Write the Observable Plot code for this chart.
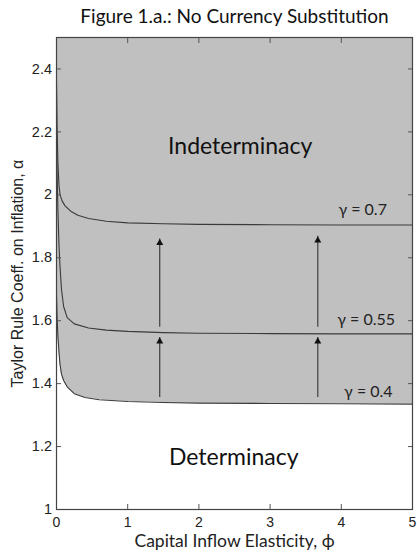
<!DOCTYPE html>
<html>
<head>
<meta charset="utf-8">
<script src="https://cdn.jsdelivr.net/npm/d3@7"></script>
<script src="https://cdn.jsdelivr.net/npm/@observablehq/plot@0.6"></script>
<style>
  html, body { margin: 0; padding: 0; background: #fff; }
</style>
</head>
<body>
<div id="chart"></div>
<script>
// ---- data ----
const titleText = "Figure 1.a.: No Currency Substitution";
const xLabel = "Capital Inflow Elasticity, \u03d5";
const yLabel = "Taylor Rule Coeff. on Inflation, \u03b1";
const xTicks = [0, 1, 2, 3, 4, 5];
const yTicks = [1, 1.2, 1.4, 1.6, 1.8, 2, 2.2, 2.4];
const xDomain = [0, 5];
const yDomain = [1, 2.5];

// gamma = 0.7
const phi07   = [0, 0.01, 0.02, 0.035, 0.05, 0.08, 0.12, 0.2, 0.3, 0.45, 0.7, 1.0, 1.5, 2, 3, 4, 5];
const alpha07 = [2.36, 2.2, 2.1, 2.03, 2.0, 1.98, 1.965, 1.948, 1.935, 1.925, 1.916, 1.911, 1.908, 1.906, 1.905, 1.904, 1.904];
// gamma = 0.55
const phi055   = [0, 0.01, 0.02, 0.035, 0.05, 0.07, 0.1, 0.15, 0.25, 0.45, 0.7, 1.0, 1.5, 2, 3, 4, 5];
const alpha055 = [2.2, 2.05, 1.95, 1.84, 1.77, 1.7, 1.645, 1.61, 1.59, 1.577, 1.57, 1.566, 1.562, 1.56, 1.559, 1.558, 1.558];
// gamma = 0.4
const phi04   = [0, 0.01, 0.02, 0.035, 0.05, 0.07, 0.1, 0.15, 0.25, 0.4, 0.6, 1.0, 1.5, 2, 3, 4, 5];
const alpha04 = [1.68, 1.6, 1.55, 1.5, 1.46, 1.43, 1.41, 1.39, 1.368, 1.356, 1.349, 1.343, 1.34, 1.338, 1.337, 1.336, 1.335];

const curveNames = ["\u03b3 = 0.7", "\u03b3 = 0.55", "\u03b3 = 0.4"];
const labelPhi   = [4.3, 4.35, 4.38];
const labelAlpha = [1.952, 1.603, 1.375];

const regionNames = ["Indeterminacy", "Determinacy"];
const regionPhi   = [2.58, 2.49];
const regionAlpha = [2.152, 1.165];

const arrowPhi    = [1.45, 1.45, 3.67, 3.67];
const arrowFrom   = [1.356, 1.579, 1.356, 1.579];
const arrowTo     = [1.547, 1.860, 1.547, 1.868];

// ---- tables ----
const mk = (p, a) => p.map((v, i) => ({phi: v, alpha: a[i]}));
const c07 = mk(phi07, alpha07), c055 = mk(phi055, alpha055), c04 = mk(phi04, alpha04);
const labels = curveNames.map((t, i) => ({t, phi: labelPhi[i], alpha: labelAlpha[i]}));
const regions = regionNames.map((t, i) => ({t, phi: regionPhi[i], alpha: regionAlpha[i]}));
const arrows = arrowPhi.map((p, i) => ({phi: p, a1: arrowFrom[i], a2: arrowTo[i]}));

const calib = "Lato, 'Open Sans', sans-serif";
const lineColor = "#3a3a3a";

const chart = Plot.plot({
  width: 417,
  height: 557,
  marginLeft: 56,
  marginRight: 5,
  marginTop: 37,
  marginBottom: 48,
  style: {fontFamily: "'Liberation Sans', Arial, sans-serif", fontSize: "14px", background: "#fff", color: "#222"},
  x: {domain: xDomain, label: null},
  y: {domain: yDomain, label: null},
  marks: [
    Plot.areaY(c04, {x: "phi", y1: "alpha", y2: () => yDomain[1], fill: "#c0c0c0"}),
    Plot.line(c07, {x: "phi", y: "alpha", stroke: lineColor, strokeWidth: 1.1}),
    Plot.line(c055, {x: "phi", y: "alpha", stroke: lineColor, strokeWidth: 1.1}),
    Plot.line(c04, {x: "phi", y: "alpha", stroke: lineColor, strokeWidth: 1.1}),
    Plot.ruleX(arrows, {x: "phi", y1: "a1", y2: "a2", stroke: "#333", strokeWidth: 1.1}),
    Plot.dot(arrows, {x: "phi", y: "a2", symbol: "triangle", r: 2.6, fill: "#111", stroke: "none", dy: 4}),
    Plot.text(labels, {x: "phi", y: "alpha", text: "t", fontFamily: calib, fontSize: 16, fill: "#222"}),
    Plot.text(regions, {x: "phi", y: "alpha", text: "t", fontFamily: calib, fontSize: 23, fill: "#111"}),
    Plot.axisX(xTicks, {anchor: "bottom", tickSize: -5, tickPadding: 12.5, fontSize: 14, stroke: "#555"}),
    Plot.axisX(xTicks.slice(1, -1), {anchor: "top", tickSize: -5, tickFormat: () => "", stroke: "#555"}),
    Plot.axisY(yTicks, {anchor: "left", tickSize: -5, tickPadding: 9.5, fontSize: 14.5, stroke: "#555", tickFormat: d => String(d)}),
    Plot.axisY(yTicks.slice(1), {anchor: "right", tickSize: -5, tickFormat: () => "", stroke: "#555"}),
    Plot.frame({stroke: "#444", strokeWidth: 1.2}),
    Plot.text([titleText], {frameAnchor: "top", lineAnchor: "middle", dy: -21, fontFamily: calib, fontSize: 19, fill: "#111"}),
    Plot.text([xLabel], {frameAnchor: "bottom", lineAnchor: "middle", dy: 32, fontFamily: calib, fontSize: 17.5, fill: "#222"}),
    Plot.text([yLabel], {frameAnchor: "left", textAnchor: "middle", lineAnchor: "middle", dx: -38.5, rotate: -90, fontSize: 16, fill: "#222"})
  ]
});
document.getElementById("chart").appendChild(chart);
</script>
</body>
</html>
